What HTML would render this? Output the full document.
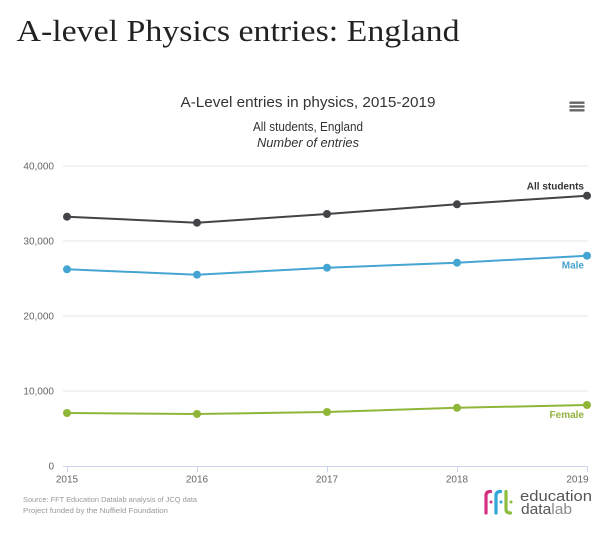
<!DOCTYPE html>
<html>
<head>
<meta charset="utf-8">
<style>
  html,body{margin:0;padding:0;background:#fff;}
  body{width:612px;height:544px;overflow:hidden;}
  svg{display:block;}
</style>
</head>
<body>
<svg width="612" height="544" viewBox="0 0 612 544" xmlns="http://www.w3.org/2000/svg">
  <rect width="612" height="544" fill="#fff"/>
  <!-- Page title -->
  <text x="16.5" y="41" font-family="Liberation Serif, serif" font-size="31" fill="#222" textLength="443" lengthAdjust="spacingAndGlyphs">A-level Physics entries: England</text>

  <!-- Chart titles -->
  <text x="308" y="107" text-anchor="middle" font-family="Liberation Sans, sans-serif" font-size="14.5" fill="#333" textLength="255" lengthAdjust="spacingAndGlyphs">A-Level entries in physics, 2015-2019</text>
  <text x="308" y="131" text-anchor="middle" font-family="Liberation Sans, sans-serif" font-size="12.5" fill="#333" textLength="110" lengthAdjust="spacingAndGlyphs">All students, England</text>
  <text x="308" y="147" text-anchor="middle" font-family="Liberation Sans, sans-serif" font-size="12.5" font-style="italic" fill="#333" textLength="102" lengthAdjust="spacingAndGlyphs">Number of entries</text>

  <!-- Hamburger -->
  <g stroke="#666" stroke-width="2.4">
    <line x1="569.5" y1="102.7" x2="584.5" y2="102.7"/>
    <line x1="569.5" y1="106.5" x2="584.5" y2="106.5"/>
    <line x1="569.5" y1="110.3" x2="584.5" y2="110.3"/>
  </g>

  <!-- Gridlines -->
  <g stroke="#e6e6e6" stroke-width="1">
    <line x1="63" y1="166" x2="588" y2="166"/>
    <line x1="63" y1="241" x2="588" y2="241"/>
    <line x1="63" y1="316" x2="588" y2="316"/>
    <line x1="63" y1="391" x2="588" y2="391"/>
  </g>
  <!-- X axis -->
  <line x1="63" y1="466.5" x2="588" y2="466.5" stroke="#ccd6eb" stroke-width="1"/>
  <g stroke="#ccd6eb" stroke-width="1">
    <line x1="67.5" y1="466" x2="67.5" y2="472"/>
    <line x1="197.5" y1="466" x2="197.5" y2="472"/>
    <line x1="327.5" y1="466" x2="327.5" y2="472"/>
    <line x1="457.5" y1="466" x2="457.5" y2="472"/>
    <line x1="587.5" y1="466" x2="587.5" y2="472"/>
  </g>

  <!-- Y labels -->
  <g font-family="Liberation Sans, sans-serif" font-size="10" fill="#666" text-anchor="end">
    <text x="54" y="169.5">40,000</text>
    <text x="54" y="244.5">30,000</text>
    <text x="54" y="319.5">20,000</text>
    <text x="54" y="394.5">10,000</text>
    <text x="54" y="469.5">0</text>
  </g>
  <!-- X labels -->
  <g font-family="Liberation Sans, sans-serif" font-size="10" fill="#666" text-anchor="middle">
    <text x="67" y="482.5">2015</text>
    <text x="197" y="482.5">2016</text>
    <text x="327" y="482.5">2017</text>
    <text x="457" y="482.5">2018</text>
    <text x="577.5" y="482.5">2019</text>
  </g>

  <!-- Series: All students -->
  <polyline fill="none" stroke="#444448" stroke-width="2" points="67,216.7 197,222.7 327,214 457,204.3 587,195.7"/>
  <g fill="#444448">
    <circle cx="67" cy="216.7" r="4"/>
    <circle cx="197" cy="222.7" r="4"/>
    <circle cx="327" cy="214" r="4"/>
    <circle cx="457" cy="204.3" r="4"/>
    <circle cx="587" cy="195.7" r="4"/>
  </g>
  <!-- Male -->
  <polyline fill="none" stroke="#45a5d2" stroke-width="2" points="67,269.3 197,274.7 327,267.7 457,262.7 587,255.7"/>
  <g fill="#45a5d2">
    <circle cx="67" cy="269.3" r="4"/>
    <circle cx="197" cy="274.7" r="4"/>
    <circle cx="327" cy="267.7" r="4"/>
    <circle cx="457" cy="262.7" r="4"/>
    <circle cx="587" cy="255.7" r="4"/>
  </g>
  <!-- Female -->
  <polyline fill="none" stroke="#90b638" stroke-width="2" points="67,413 197,414 327,412 457,407.8 587,405"/>
  <g fill="#90b638">
    <circle cx="67" cy="413" r="4"/>
    <circle cx="197" cy="414" r="4"/>
    <circle cx="327" cy="412" r="4"/>
    <circle cx="457" cy="407.8" r="4"/>
    <circle cx="587" cy="405" r="4"/>
  </g>

  <!-- Series labels -->
  <g font-family="Liberation Sans, sans-serif" font-size="10" font-weight="bold" text-anchor="end">
    <text x="584" y="189.5" fill="#333">All students</text>
    <text x="584" y="268.5" fill="#4aa3cf">Male</text>
    <text x="584" y="418" fill="#93b23e">Female</text>
  </g>

  <!-- Source -->
  <g font-family="Liberation Sans, sans-serif" font-size="7.5" fill="#999">
    <text x="23" y="502" textLength="174" lengthAdjust="spacingAndGlyphs">Source: FFT Education Datalab analysis of JCQ data</text>
    <text x="23" y="513" textLength="145" lengthAdjust="spacingAndGlyphs">Project funded by the Nuffield Foundation</text>
  </g>

  <!-- Logo -->
  <g fill="none" stroke-width="3.2" stroke-linecap="round">
    <path d="M486,513 V495.5 Q486,491.5 490.5,491.5" stroke="#d42f80"/>
    <path d="M496,513 V495.5 Q496,491.5 500.5,491.5" stroke="#2ea6d8"/>
    <path d="M506,491.5 V509.5 Q506,513 510.5,513" stroke="#8dbd3f"/>
  </g>
  <circle cx="491" cy="502" r="1.5" fill="#d42f80"/>
  <circle cx="501" cy="502" r="1.5" fill="#2ea6d8"/>
  <circle cx="511" cy="502" r="1.5" fill="#8dbd3f"/>
  <g font-family="Liberation Sans, sans-serif" font-size="14.5">
    <text x="520" y="501" fill="#555" textLength="72" lengthAdjust="spacingAndGlyphs">education</text>
    <text x="521" y="514" textLength="51" lengthAdjust="spacingAndGlyphs"><tspan fill="#555">data</tspan><tspan fill="#8a8a8a">lab</tspan></text>
  </g>
</svg>
</body>
</html>
